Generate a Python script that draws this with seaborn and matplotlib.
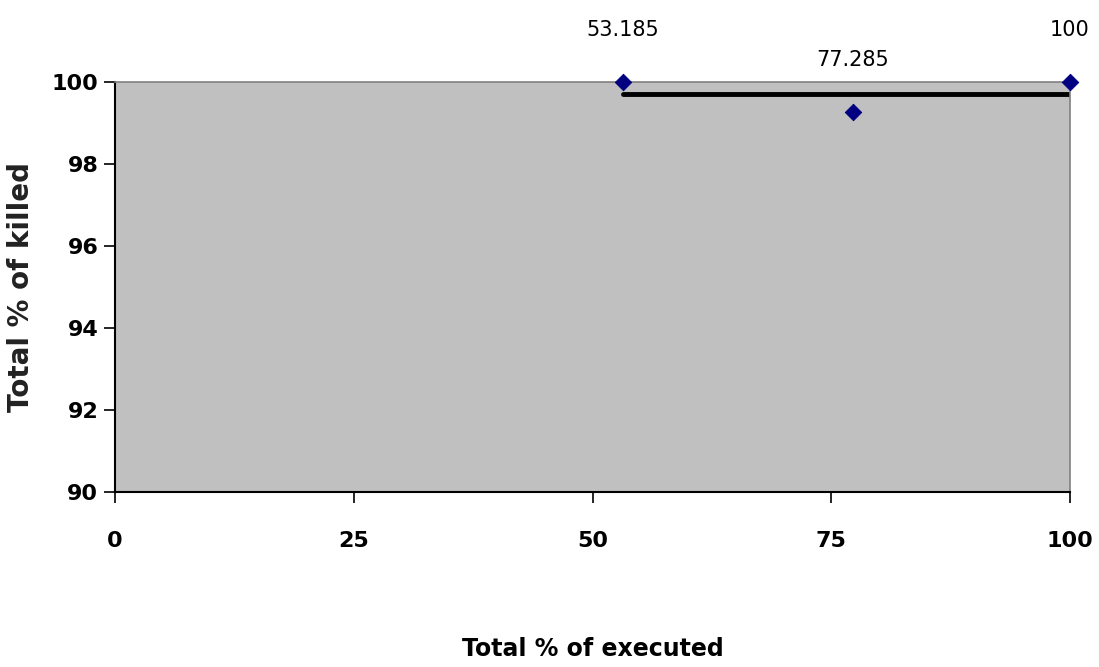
import matplotlib
matplotlib.use("Agg")
import matplotlib.pyplot as plt
import seaborn as sns
import pandas as pd

executed = [53.185, 77.285, 100]
killed = [100, 99.27, 100]
trend_x = [53.185, 100]
trend_y = [99.71, 99.71]

df = pd.DataFrame({"executed": executed, "killed": killed})

sns.set_style("white")
plt.rcParams['font.family'] = ['DejaVu Sans']
plt.rcParams['text.color'] = 'black'
plt.rcParams['axes.labelcolor'] = 'black'
plt.rcParams['xtick.color'] = 'black'
plt.rcParams['ytick.color'] = 'black'

fig = plt.figure(figsize=(10.99, 6.67), dpi=100)
ax = fig.add_axes([115 / 1099, 1 - 492 / 667, (1070 - 115) / 1099, (492 - 82) / 667])
ax.set_facecolor("#C0C0C0")

ax.plot(trend_x, trend_y, color="black", lw=3.5, zorder=2)
sns.scatterplot(data=df, x="executed", y="killed", marker="D", s=70,
                color="#000080", edgecolor="#000080", ax=ax, zorder=3, clip_on=False)

for x, y in zip(executed, killed):
    ax.annotate(f"{x:g}", (x, y), xytext=(0, 30), textcoords="offset points",
                ha="center", va="bottom", fontsize=15)

ax.set_xlim(0, 100)
ax.set_ylim(90, 100)
ax.set_xticks([0, 25, 50, 75, 100])
ax.set_yticks([90, 92, 94, 96, 98, 100])
ax.tick_params(axis="x", direction="out", length=8, width=1.2, pad=20,
               labelsize=16, bottom=True)
ax.tick_params(axis="y", direction="out", length=8, width=1.2, pad=4,
               labelsize=16, left=True)
for lab in ax.get_xticklabels() + ax.get_yticklabels():
    lab.set_fontweight("bold")

for side in ["left", "bottom"]:
    ax.spines[side].set_color("black")
    ax.spines[side].set_linewidth(1.5)
for side in ["top", "right"]:
    ax.spines[side].set_color("#808080")
    ax.spines[side].set_linewidth(1.2)

ax.set_xlabel("Total % of executed", fontsize=17, fontweight="bold", labelpad=62)
ax.set_ylabel("Total % of killed", fontsize=20, fontweight="bold",
              color="#222222", labelpad=12)

fig.savefig("out.png", dpi=100)
